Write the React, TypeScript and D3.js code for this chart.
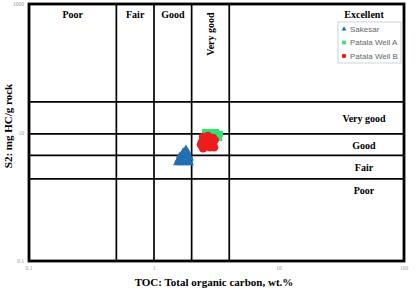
import React from "react";
import * as d3 from "d3";

// TOC (wt.%) and S2 (mg HC/g rock)
const sakesarToc = [1.8, 1.71, 1.87, 1.61, 1.77, 1.94, 1.56, 1.71, 1.87, 1.53, 1.64, 1.77, 1.94, 1.84, 1.68];
const sakesarS2 = [5.5, 5.0, 4.8, 4.3, 4.2, 4.0, 3.7, 3.6, 3.6, 3.35, 3.35, 3.35, 3.35, 4.6, 3.9];
const wellAToc = [2.56, 2.81, 3.13, 3.37, 3.31, 3.02, 2.7, 3.2];
const wellAS2 = [10.2, 10.2, 10.2, 9.5, 8.2, 8.8, 8.5, 9.6];
const wellBToc = [2.47, 2.7, 2.97, 2.42, 2.65, 2.91, 2.56, 2.81, 3.02, 2.47, 2.76, 2.38, 3.05];
const wellBS2 = [8.5, 8.8, 8.2, 7.1, 7.4, 6.9, 6.2, 5.9, 5.9, 5.7, 7.8, 6.5, 7.6];

const tocLimits = [0.5, 1, 2, 4];
const s2Limits = [1.9, 4.4, 9.5, 30];
const xTicks = [0.1, 1, 10, 100];
const yTicks = [0.1, 10, 1000];

const topLabels = ["Poor", "Fair", "Good", "Very good", "Excellent"];
const rightLabels = ["Poor", "Fair", "Good", "Very good"];
const seriesNames = ["Sakesar", "Patala Well A", "Patala Well B"];
const seriesColors = ["#1f6fb4", "#2ee66b", "#ee1c1c"];

const W = 416;
const H = 292;
const m = { left: 29, right: 404, top: 4, bottom: 261 };

export default function App() {
  const x = d3.scaleLog().domain([0.1, 100]).range([m.left, m.right]);
  const y = d3.scaleLog().domain([0.1, 1000]).range([m.bottom, m.top]);
  const tri = d3.symbol(d3.symbolTriangle, 28)();
  const sq = d3.symbol(d3.symbolSquare, 36)();

  const xb = [0.1, ...tocLimits, 100];
  const yb = [0.1, ...s2Limits, 1000];
  const serif = "'Liberation Serif', 'Times New Roman', serif";
  const sans = "'Liberation Sans', Arial, sans-serif";

  return (
    <svg width={W} height={H} style={{ position: "absolute", left: 0, top: 0, background: "#fff" }}>
      {/* class boundaries */}
      {tocLimits.map((v) => (
        <line key={"v" + v} x1={x(v)} x2={x(v)} y1={m.top} y2={m.bottom} stroke="#000" strokeWidth={1.7} />
      ))}
      {s2Limits.map((v) => (
        <line key={"h" + v} x1={m.left} x2={m.right} y1={y(v)} y2={y(v)} stroke="#000" strokeWidth={1.7} />
      ))}
      <rect x={m.left} y={m.top} width={m.right - m.left} height={m.bottom - m.top} fill="none" stroke="#000" strokeWidth={2.8} />

      {/* TOC classes along top */}
      {topLabels.map((t, i) => {
        const cx = Math.sqrt(xb[i] * xb[i + 1]);
        if (t === "Very good") {
          return (
            <text key={t} transform={`translate(${x(cx) + 4},${m.top + 30}) rotate(-90)`} textAnchor="middle"
              fontFamily={serif} fontWeight="bold" fontSize={10}>{t}</text>
          );
        }
        const px = t === "Excellent" ? 364 : x(cx);
        return (
          <text key={t} x={px} y={m.top + 14} textAnchor="middle" fontFamily={serif} fontWeight="bold" fontSize={10}>{t}</text>
        );
      })}

      {/* S2 classes along right */}
      {rightLabels.map((t, i) => {
        const ty = t === "Poor" ? y(s2Limits[0]) + 15 : (y(yb[i]) + y(yb[i + 1])) / 2 + 4;
        return (
          <text key={"r" + t} x={364} y={ty} textAnchor="middle" fontFamily={serif} fontWeight="bold" fontSize={10}>{t}</text>
        );
      })}

      {/* data */}
      {sakesarToc.map((v, i) => (
        <path key={"s" + i} d={tri} transform={`translate(${x(v)},${y(sakesarS2[i])})`} fill={seriesColors[0]} />
      ))}
      {wellAToc.map((v, i) => (
        <path key={"a" + i} d={sq} transform={`translate(${x(v)},${y(wellAS2[i])})`} fill={seriesColors[1]} />
      ))}
      {wellBToc.map((v, i) => (
        <circle key={"b" + i} cx={x(v)} cy={y(wellBS2[i])} r={4.3} fill={seriesColors[2]} />
      ))}

      {/* legend */}
      <rect x={338} y={22} width={63} height={41} fill="#fff" stroke="#b8ccd8" strokeWidth={0.8} />
      {seriesNames.map((n, i) => {
        const ly = 29 + i * 13.5;
        const mk = i === 0 ? d3.symbol(d3.symbolTriangle, 10)() : i === 1 ? d3.symbol(d3.symbolSquare, 14)() : null;
        return (
          <g key={n}>
            {mk ? (
              <path d={mk} transform={`translate(${344},${ly})`} fill={seriesColors[i]} />
            ) : (
              <circle cx={344} cy={ly} r={2.2} fill={seriesColors[i]} />
            )}
            <text x={350} y={ly + 2.8} fontFamily={sans} fontSize={8} fill="#666">{n}</text>
          </g>
        );
      })}

      {/* tick labels */}
      {xTicks.map((t) => (
        <text key={"xt" + t} x={x(t)} y={m.bottom + 9} textAnchor="middle" fontFamily={serif} fontSize={5.5} fill="#999">{t}</text>
      ))}
      {yTicks.map((t) => (
        <text key={"yt" + t} x={m.left - 5} y={y(t) + 2} textAnchor="end" fontFamily={serif} fontSize={5.5} fill="#999">{t}</text>
      ))}

      {/* axis titles */}
      <text x={214} y={286} textAnchor="middle" fontFamily={serif} fontWeight="bold" fontSize={11}>
        TOC: Total organic carbon, wt.%
      </text>
      <text transform={`translate(12,126) rotate(-90)`} textAnchor="middle" fontFamily={serif} fontWeight="bold" fontSize={11}>
        S2: mg HC/g rock
      </text>
    </svg>
  );
}
